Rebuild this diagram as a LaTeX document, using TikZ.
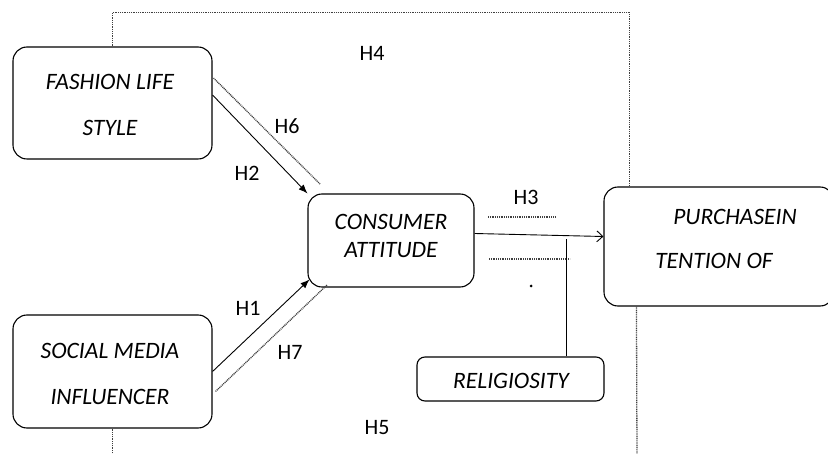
\documentclass[tikz,border=0pt]{standalone}
\usepackage{fontspec}
\setmainfont{Carlito}
\usetikzlibrary{arrows.meta}
\begin{document}
\begin{tikzpicture}[x=1pt,y=-1pt,
  box/.style={draw, line width=1.1pt, rounded corners=14pt, inner sep=0pt},
  boxtext/.style={font=\itshape\fontsize{23.5}{46}\selectfont, align=center, inner sep=0pt},
  lbl/.style={font=\fontsize{22}{24}\selectfont, inner sep=0pt},
  dots/.style={draw=black!75, line width=1.3pt, dash pattern=on 1pt off 0.8pt},
  solid line/.style={draw, line width=0.9pt}]
\useasboundingbox (0,0) rectangle (828,454);
% boxes
\node[box, minimum width=199pt, minimum height=112pt] (fashion) at (112.5,103) {};
\node[box, minimum width=199pt, minimum height=113pt] (social) at (112.5,371.5) {};
\node[box, minimum width=166pt, minimum height=93pt] (consumer) at (391,240.5) {};
\node[box, minimum width=230pt, minimum height=119pt] (purchase) at (719,246.5) {};
\node[box, rounded corners=8pt, minimum width=187pt, minimum height=44pt] (relig) at (510.5,379) {};
% box texts
\node[boxtext] (tfashion) at (110,105) {FASHION LIFE\\STYLE};
\node[boxtext] (tsocial) at (110,374) {SOCIAL MEDIA\\INFLUENCER};
\node[boxtext, font=\itshape\fontsize{23.5}{28}\selectfont] (tconsumer) at (391,236) {CONSUMER\\ATTITUDE};
\node[boxtext] (tpurch1) at (735,217) {PURCHASEIN};
\node[boxtext] (tpurch2) at (714,261) {TENTION OF};
\node[boxtext] (trelig) at (511,381) {RELIGIOSITY};
% labels
\node[lbl] (h4) at (372,53) {H4};
\node[lbl] (h6) at (287,126) {H6};
\node[lbl] (h2) at (247,173) {H2};
\node[lbl] (h3) at (526,197) {H3};
\node[lbl] (h1) at (248,308) {H1};
\node[lbl] (h7) at (290,352) {H7};
\node[lbl] (h5) at (377,428) {H5};
% coordinates
\coordinate (h3a1) at (488,217);
\coordinate (h3a2) at (556,217);
\coordinate (h3b1) at (489,259);
\coordinate (h3b2) at (570,259);
\coordinate (modtop) at (566,239);
\coordinate (botL) at (112.5,456);
\coordinate (botR) at (637,456);
% connectors
\draw[solid line, -{Latex[length=9pt,width=7pt]}] ([yshift=8pt]fashion.east) -- (consumer.north west);
\draw[dots] ([xshift=1pt,yshift=25pt]fashion.east) -- ([xshift=13pt,yshift=9pt]consumer.north west);
\draw[solid line, -{Latex[length=9pt,width=7pt]}] (social.east) -- ([xshift=2pt,yshift=8pt]consumer.south west);
\draw[dots] ([xshift=3pt,yshift=-20pt]social.east) -- ([xshift=20pt,yshift=3pt]consumer.south west);
\draw[solid line, -{Straight Barb[length=6pt,width=11pt]}] ([yshift=7pt]consumer.east) -- ([yshift=10pt]purchase.west);
\draw[dots] (h3a1) -- (h3a2);
\draw[dots] (h3b1) -- (h3b2);
\draw[solid line] ([xshift=55.5pt]relig.north) -- (modtop);
\fill (531,286) circle (1.5pt);
\draw[dots] (fashion.north) -- ++(0,-34) -| ([xshift=26pt]purchase.north west);
\draw[dots] (social.south) -- (botL);
\draw[dots] ([xshift=33pt]purchase.south west) -- (botR);
\end{tikzpicture}
\end{document}
